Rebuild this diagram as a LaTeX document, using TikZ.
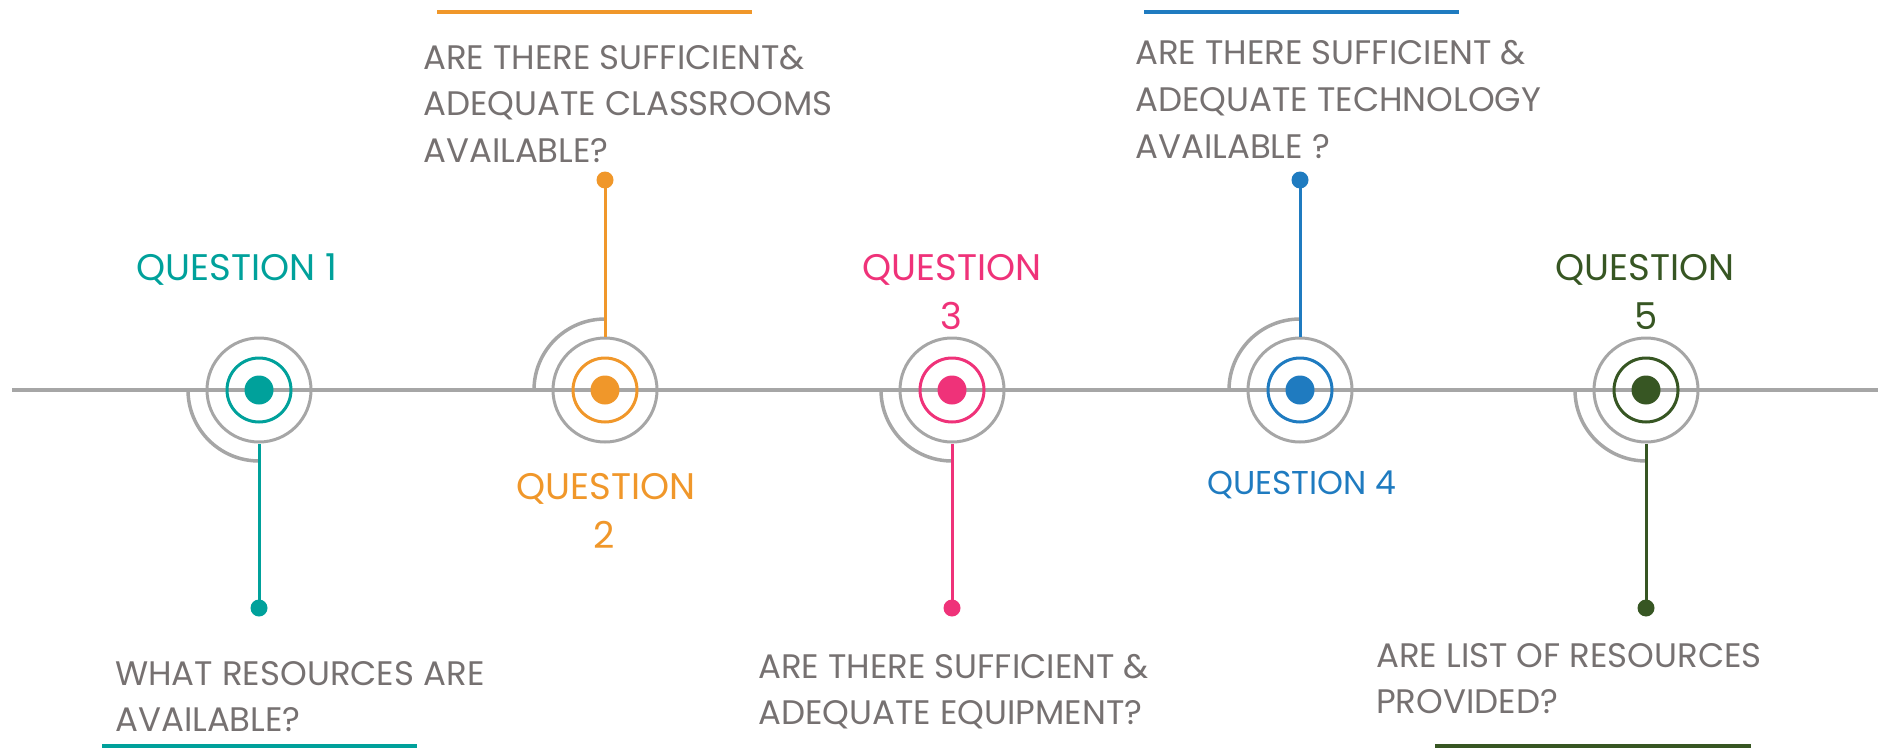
\documentclass[tikz,border=0pt]{standalone}
\usepackage{fontspec}
\setmainfont{Poppins}
\definecolor{cteal}{HTML}{00A19B}
\definecolor{corange}{HTML}{F0972A}
\definecolor{cpink}{HTML}{EF3279}
\definecolor{cblue}{HTML}{1F7BC0}
\definecolor{cgreen}{HTML}{375623}
\definecolor{ctext}{HTML}{767171}
\definecolor{cgrey}{HTML}{A6A6A6}
\begin{document}
\begin{tikzpicture}[x=1pt,y=-1pt,
  body/.style={anchor=base west, inner sep=0pt, text=ctext, font=\fontsize{34}{40}\selectfont},
  qlab/.style={anchor=base west, inner sep=0pt, font=\fontsize{37}{44}\selectfont},
  qnum/.style={anchor=base, inner sep=0pt, font=\fontsize{37}{44}\selectfont},
  greyring/.style={circle, draw=cgrey, line width=3pt, minimum size=104pt, inner sep=0pt},
  colring/.style={circle, draw=#1, line width=3pt, minimum size=64pt, inner sep=0pt},
  bigdot/.style={circle, fill=#1, minimum size=29pt, inner sep=0pt},
  smalldot/.style={circle, fill=#1, minimum size=17pt, inner sep=0pt},
  greyarc/.style={draw=cgrey, line width=3.5pt},
  stem/.style={draw=#1, line width=3pt},
  rule/.style={draw=#1, line width=4pt}]
\useasboundingbox (0,0) rectangle (1878,749);
% main line
\coordinate (L) at (12,390);
\coordinate (R) at (1878,390);
\draw[draw=cgrey, line width=4pt] (L) -- (R);
% centres
\coordinate (c1) at (259,390);
\coordinate (c2) at (605,390);
\coordinate (c3) at (952,390);
\coordinate (c4) at (1300,390);
\coordinate (c5) at (1646,390);
% arcs
\draw[greyarc] (188,390) arc[start angle=180, end angle=270, radius=71pt];
\draw[greyarc] (534,390) arc[start angle=180, end angle=90, radius=71pt];
\draw[greyarc] (881,390) arc[start angle=180, end angle=270, radius=71pt];
\draw[greyarc] (1229,390) arc[start angle=180, end angle=90, radius=71pt];
\draw[greyarc] (1575,390) arc[start angle=180, end angle=270, radius=71pt];
% rings and dots
\node[greyring] (g1) at (c1) {};
\node[greyring] (g2) at (c2) {};
\node[greyring] (g3) at (c3) {};
\node[greyring] (g4) at (c4) {};
\node[greyring] (g5) at (c5) {};
\node[colring=cteal] (r1) at (c1) {};
\node[colring=corange] (r2) at (c2) {};
\node[colring=cpink] (r3) at (c3) {};
\node[colring=cblue] (r4) at (c4) {};
\node[colring=cgreen] (r5) at (c5) {};
\node[bigdot=cteal] (b1) at (c1) {};
\node[bigdot=corange] (b2) at (c2) {};
\node[bigdot=cpink] (b3) at (c3) {};
\node[bigdot=cblue] (b4) at (c4) {};
\node[bigdot=cgreen] (b5) at (c5) {};
% small dots
\node[smalldot=cteal] (e1) at (259,608) {};
\node[smalldot=corange] (e2) at (605,180) {};
\node[smalldot=cpink] (e3) at (952,608) {};
\node[smalldot=cblue] (e4) at (1300,180) {};
\node[smalldot=cgreen] (e5) at (1646,608) {};
% stems
\draw[stem=cteal] (g1.south) -- (e1.center);
\draw[stem=corange] (g2.north) -- (e2.center);
\draw[stem=cpink] (g3.south) -- (e3.center);
\draw[stem=cblue] (g4.north) -- (e4.center);
\draw[stem=cgreen] (g5.south) -- (e5.center);
% coloured rules
\coordinate (o1) at (437,12); \coordinate (o2) at (752,12);
\coordinate (u1) at (1144,12); \coordinate (u2) at (1459,12);
\coordinate (t1) at (102,746); \coordinate (t2) at (417,746);
\coordinate (n1) at (1435,746); \coordinate (n2) at (1751,746);
\draw[rule=corange] (o1) -- (o2);
\draw[rule=cblue] (u1) -- (u2);
\draw[rule=cteal] (t1) -- (t2);
\draw[rule=cgreen] (n1) -- (n2);
% labels
\node[qlab, text=cteal] (l1) at (136,280) {QUESTION 1};
\node[qlab, text=corange] (l2) at (516,499) {QUESTION};
\node[qnum, text=corange] (l2n) at (604,548) {2};
\node[qlab, text=cpink] (l3) at (862,280) {QUESTION};
\node[qnum, text=cpink] (l3n) at (951,329) {3};
\node[qlab, text=cblue, font=\fontsize{33}{40}\selectfont] (l4) at (1207,494) {QUESTION 4};
\node[qlab, text=cgreen] (l5) at (1555,280) {QUESTION};
\node[qnum, text=cgreen] (l5n) at (1646,329) {5};
% body texts
\node[body] (a1) at (115,685) {WHAT RESOURCES ARE};
\node[body] (a2) at (115,731) {AVAILABLE?};
\node[body] (b2a) at (423,70) {ARE THERE SUFFICIENT\&};
\node[body] (b2b) at (423,116) {ADEQUATE CLASSROOMS};
\node[body] (b2c) at (423,162) {AVAILABLE?};
\node[body] (b3a) at (758,678) {ARE THERE SUFFICIENT \&};
\node[body] (b3b) at (758,724) {ADEQUATE EQUIPMENT?};
\node[body] (b4a) at (1135,65) {ARE THERE SUFFICIENT \&};
\node[body] (b4b) at (1135,112) {ADEQUATE TECHNOLOGY};
\node[body] (b4c) at (1135,158) {AVAILABLE ?};
\node[body] (b5a) at (1376,667) {ARE LIST OF RESOURCES};
\node[body] (b5b) at (1376,713) {PROVIDED?};
\end{tikzpicture}
\end{document}
